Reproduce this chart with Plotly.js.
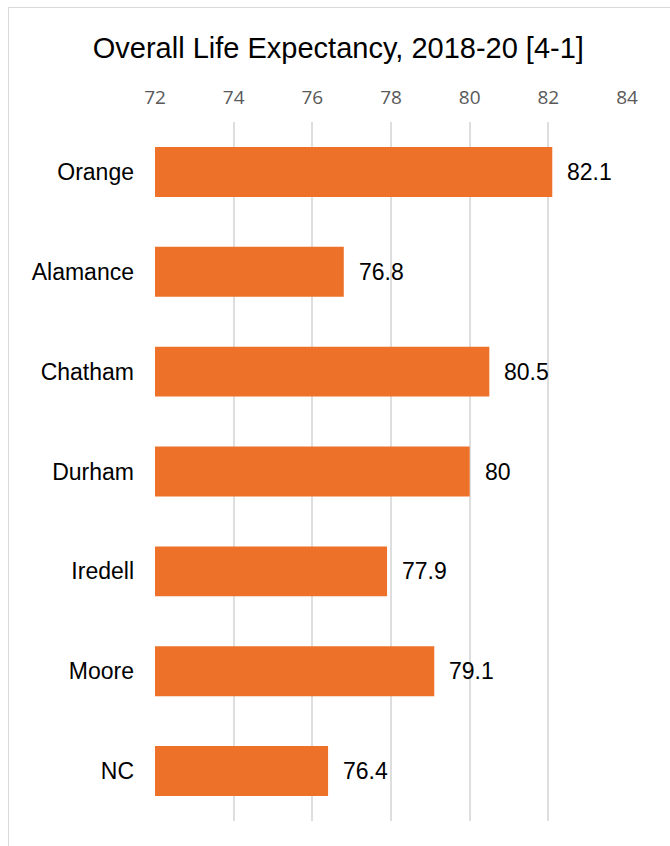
<!DOCTYPE html>
<html><head><meta charset="utf-8">
<script src="https://cdn.plot.ly/plotly-3.0.1.min.js"></script>
<style>
html,body{margin:0;padding:0;background:#fff;overflow:hidden}
#frame{position:absolute;left:8px;top:7px;width:700px;height:900px;border:1.5px solid #d9d9d9;box-sizing:border-box}
#chart{position:absolute;left:0;top:0;width:670px;height:846px}
</style></head>
<body>
<div id="frame"></div>
<div id="chart"></div>
<script>
const categories = ["Orange","Alamance","Chatham","Durham","Iredell","Moore","NC"];
const values = [82.1, 76.8, 80.5, 80, 77.9, 79.1, 76.4];
const labels = ["82.1","76.8","80.5","80","77.9","79.1","76.4"];
const tickVals = [72,74,76,78,80,82,84];

const trace = {
  type: 'bar', orientation: 'h',
  x: values.map(v => v - 72), base: 72, y: categories,
  marker: {color: '#ED7128'},
  hoverinfo: 'none'
};
const annotations = categories.map((c,i) => ({
  x: values[i], y: c, xref: 'x', yref: 'y', text: labels[i],
  showarrow: false, xanchor: 'left', xshift: 13,
  font: {family: 'Liberation Sans, Arial, sans-serif', size: 23, color: '#000'}
}));
const layout = {
  width: 670, height: 846,
  paper_bgcolor: 'rgba(0,0,0,0)', plot_bgcolor: 'rgba(0,0,0,0)',
  margin: {l: 155, r: 43, t: 122, b: 25},
  showlegend: false, bargap: 0.5,
  title: {text: 'Overall Life Expectancy, 2018-20 [4-1]', x: 0.505, xanchor: 'center', y: 0.944, yanchor: 'middle',
    font: {family: 'Liberation Sans, Arial, sans-serif', size: 29, color: '#000'}},
  xaxis: {side: 'top', range: [72, 84], tickvals: tickVals, ticktext: tickVals.map(String),
    showgrid: true, gridcolor: '#dedede', gridwidth: 2, zeroline: false, showline: false,
    ticks: '', ticklabelstandoff: 13,
    tickfont: {family: 'Open Sans, sans-serif', size: 19, color: '#595959'}},
  yaxis: {autorange: 'reversed', showgrid: false, zeroline: false, showline: false, ticks: '',
    ticklabelstandoff: 20,
    tickfont: {family: 'Liberation Sans, Arial, sans-serif', size: 23, color: '#000'}},
  annotations: annotations
};
Plotly.newPlot('chart', [trace], layout, {displayModeBar: false, staticPlot: true});
</script>
</body></html>
